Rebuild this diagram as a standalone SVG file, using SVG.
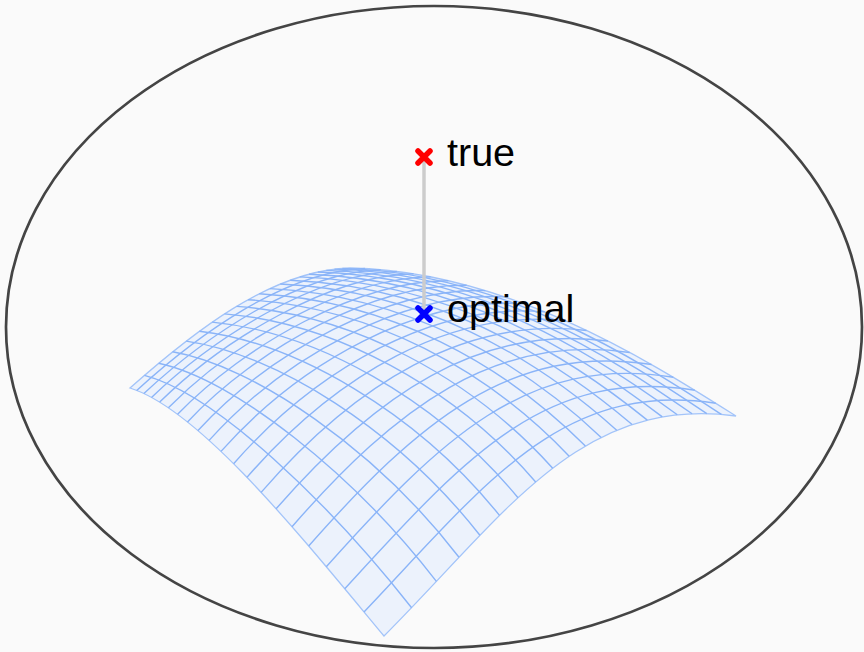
<svg xmlns="http://www.w3.org/2000/svg" width="864" height="652" viewBox="0 0 864 652">
<style>
.bg{fill:#fafafa}
.frame{fill:none;stroke:#444;stroke-width:2.7}
.skin{fill:#ecf2fc;stroke:#a3c4f9;stroke-width:1.3}
.mesh path{fill:none;stroke:#8ab4f8;stroke-width:1.4}
.link{stroke:#cccccc;stroke-width:3.5}
.mk{stroke-width:5.5;stroke-linecap:round}
.lbl{font-family:"Liberation Sans",Arial,sans-serif;font-size:39.5px;fill:#000}
</style>
<rect class="bg" x="0" y="0" width="864" height="652"/>
<g id="frame"><ellipse class="frame" cx="434" cy="327" rx="428" ry="321"/></g>
<g id="surface">
<path class="skin" d="M384,636 C505,515 580,395 736,416 C655,365 510,271 350,268 C270,270 190,335 130,388 C200,410 300,535 384,636 Z"/>
<g class="mesh">
<path d="M364.0,611.9 C483.95,485.85 561.15,379.8 715.8,403.3"/>
<path d="M344.75,588.7 C461.95,461.25 543.55,366.05 694.8,390.25"/>
<path d="M326.3,566.7 C439.65,440.45 526.8,353.65 673.3,377.2"/>
<path d="M308.7,546.0 C417.5,422.85 510.7,342.5 651.5,364.55"/>
<path d="M292.0,526.7 C395.8,407.9 495.0,332.45 629.7,352.45"/>
<path d="M276.1,508.8 C374.9,395.3 479.65,323.5 607.95,341.05"/>
<path d="M261.1,492.35 C354.8,384.6 464.5,315.5 586.5,330.45"/>
<path d="M246.9,477.35 C335.8,375.5 449.4,308.4 565.4,320.75"/>
<path d="M233.6,463.7 C317.8,367.9 434.45,302.1 544.6,311.9"/>
<path d="M221.0,451.4 C301.0,361.45 419.5,296.5 524.4,303.9"/>
<path d="M209.1,440.4 C285.2,356.0 404.55,291.6 504.6,296.85"/>
<path d="M198.0,430.55 C270.6,351.5 389.6,287.4 485.3,290.6"/>
<path d="M187.5,421.9 C257.0,347.7 374.65,283.65 466.55,285.25"/>
<path d="M177.6,414.3 C244.6,344.5 359.7,280.5 448.3,280.7"/>
<path d="M168.4,407.7 C233.1,341.95 344.7,277.75 430.65,276.9"/>
<path d="M159.7,402.1 C222.7,339.85 329.75,275.5 413.5,273.8"/>
<path d="M151.5,397.4 C213.2,338.15 314.8,273.6 396.85,271.4"/>
<path d="M143.9,393.5 C204.6,336.8 299.8,272.1 380.7,269.7"/>
<path d="M136.7,390.4 C196.9,335.8 284.9,270.9 365.1,268.5"/>
<path d="M411.6,607.7 C327.7,501.3 216.0,394.1 144.45,375.4"/>
<path d="M436.4,581.4 C352.6,472.8 234.3,379.5 158.7,363.3"/>
<path d="M459.0,557.2 C375.4,448.7 253.9,366.0 172.6,351.8"/>
<path d="M479.9,535.3 C396.5,428.5 274.2,353.6 186.2,341.1"/>
<path d="M499.5,515.4 C416.3,411.6 294.7,342.4 199.4,331.2"/>
<path d="M518.0,497.7 C435.1,397.6 315.0,332.2 212.2,322.1"/>
<path d="M535.7,482.0 C453.0,386.2 334.9,323.1 224.6,313.85"/>
<path d="M552.7,468.2 C470.3,376.9 354.0,314.9 236.6,306.4"/>
<path d="M569.2,456.2 C487.0,369.6 372.4,307.6 248.1,299.7"/>
<path d="M585.4,446.0 C503.4,363.9 389.8,301.1 259.3,293.8"/>
<path d="M601.2,437.4 C519.4,359.8 406.3,295.4 270.0,288.6"/>
<path d="M616.7,430.25 C535.1,356.9 421.7,290.4 280.3,284.05"/>
<path d="M632.1,424.5 C550.6,355.15 436.15,286.1 290.2,280.2"/>
<path d="M647.3,420.1 C566.0,354.4 449.6,282.5 299.8,276.9"/>
<path d="M662.3,416.9 C581.1,354.5 462.0,279.35 309.0,274.2"/>
<path d="M677.3,414.8 C596.1,355.4 473.4,276.8 317.8,272.0"/>
<path d="M692.1,413.8 C611.0,357.0 483.9,274.7 326.35,270.4"/>
<path d="M706.8,413.7 C625.8,359.2 493.5,273.05 334.5,269.15"/>
<path d="M721.45,414.4 C640.4,361.9 502.15,271.8 342.4,268.4"/>
</g>
</g>
<g id="connectors"><line class="link" x1="424" y1="160" x2="424" y2="311"/></g>
<g id="true">
<path class="mk" stroke="#ff0000" d="M418,151 L430,163 M430,151 L418,163"/>
<text class="lbl" x="447" y="166">true</text>
</g>
<g id="optimal">
<path class="mk" stroke="#0000ff" d="M418,308 L430,320 M430,308 L418,320"/>
<text class="lbl" x="447" y="322">optimal</text>
</g>
</svg>
